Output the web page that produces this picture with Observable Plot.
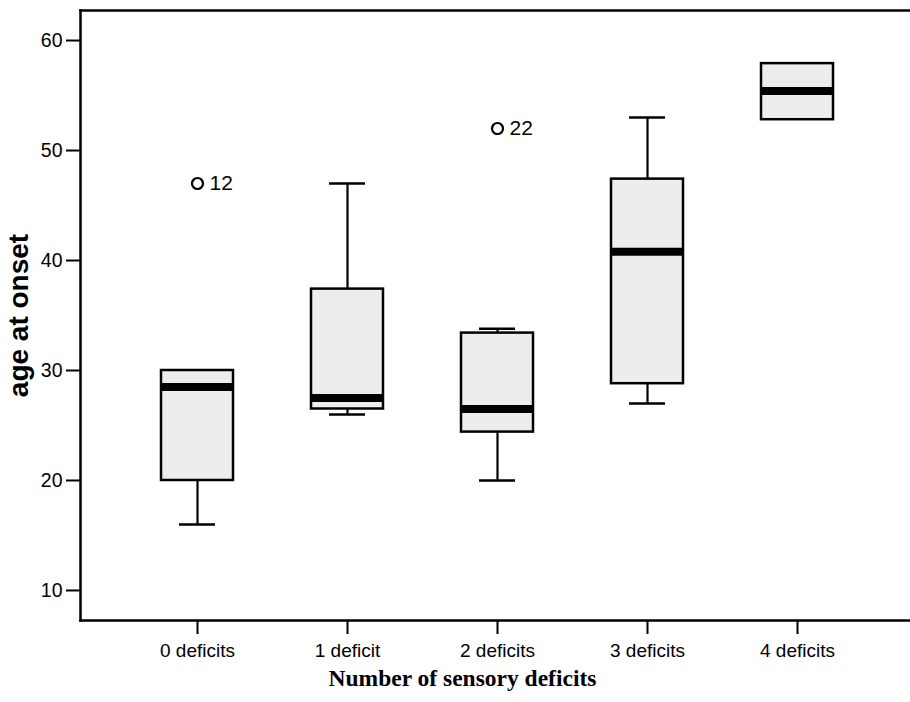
<!DOCTYPE html>
<html><head><meta charset="utf-8">
<script src="https://cdn.jsdelivr.net/npm/d3@7"></script>
<script src="https://cdn.jsdelivr.net/npm/@observablehq/plot@0.6"></script>
<style>body{margin:0;background:#fff}#chart svg{display:block}</style>
</head><body><div id="chart"></div>
<script>
const groups = ["0 deficits", "1 deficit", "2 deficits", "3 deficits", "4 deficits"];
const whiskerLow = [16, 26, 20, 27, 52.8];
const q1 = [20, 26.5, 24.4, 28.8, 52.8];
const median = [28.5, 27.5, 26.5, 40.8, 55.4];
const q3 = [30, 37.4, 33.4, 47.4, 57.9];
const whiskerHigh = [30, 47, 33.8, 53, 57.9];
const outlierGroup = ["0 deficits", "2 deficits"];
const outlierValue = [47, 52];
const outlierCase = ["12", "22"];
const yTicks = [10, 20, 30, 40, 50, 60];

const boxes = groups.map((g, i) => ({g, lo: whiskerLow[i], q1: q1[i], med: median[i], q3: q3[i], hi: whiskerHigh[i]}));
const outliers = outlierGroup.map((g, i) => ({g, v: outlierValue[i], label: outlierCase[i]}));
const lowW = boxes.filter(d => d.lo < d.q1);
const highW = boxes.filter(d => d.hi > d.q3);

const chart = Plot.plot({
  width: 910,
  height: 702,
  marginTop: 10,
  marginBottom: 82,
  marginLeft: 80,
  marginRight: 0,
  style: {fontFamily: "'Liberation Sans', Arial, sans-serif", color: "#000", background: "#fff"},
  x: {type: "band", domain: groups, range: [80, 915], paddingInner: 0.52, paddingOuter: 0.539},
  y: {domain: [7.27, 62.73]},
  marks: [
    Plot.axisY({ticks: yTicks, tickSize: 14, tickPadding: 4, fontSize: 19.5, label: null, strokeWidth: 2}),
    Plot.axisX({tickSize: 14, tickPadding: 9, fontSize: 19, label: null, strokeWidth: 2}),
    Plot.ruleX(lowW, {x: "g", y1: "lo", y2: "q1", stroke: "#000", strokeWidth: 2.2}),
    Plot.ruleX(highW, {x: "g", y1: "q3", y2: "hi", stroke: "#000", strokeWidth: 2.2}),
    Plot.tickY(lowW, {x: "g", y: "lo", stroke: "#000", strokeWidth: 2.5, insetLeft: 18, insetRight: 18}),
    Plot.tickY(highW, {x: "g", y: "hi", stroke: "#000", strokeWidth: 2.5, insetLeft: 18, insetRight: 18}),
    Plot.barY(boxes, {x: "g", y1: "q1", y2: "q3", fill: "#ededed", stroke: "#000", strokeWidth: 2.5}),
    Plot.tickY(boxes, {x: "g", y: "med", stroke: "#000", strokeWidth: 8}),
    Plot.dot(outliers, {x: "g", y: "v", r: 5.5, stroke: "#000", fill: "#fff", strokeWidth: 2.2}),
    Plot.text(outliers, {x: "g", y: "v", text: "label", dx: 12, textAnchor: "start", fontSize: 21, fill: "#000"}),
    Plot.frame({anchor: "top", strokeWidth: 2.5}),
    Plot.frame({anchor: "left", strokeWidth: 2.5}),
    Plot.frame({anchor: "bottom", strokeWidth: 2.5}),
    Plot.text(["age at onset"], {frameAnchor: "left", textAnchor: "middle", dx: -61, rotate: -90, fontSize: 28, fontWeight: "bold", fill: "#000"}),
    Plot.text(["Number of sensory deficits"], {frameAnchor: "bottom", textAnchor: "middle", dx: -33, dy: 65, fontSize: 23.5, fontWeight: "bold", fontFamily: "'Liberation Serif', 'Times New Roman', serif", fill: "#000"})
  ]
});
document.getElementById("chart").appendChild(chart);
</script>
</body></html>
